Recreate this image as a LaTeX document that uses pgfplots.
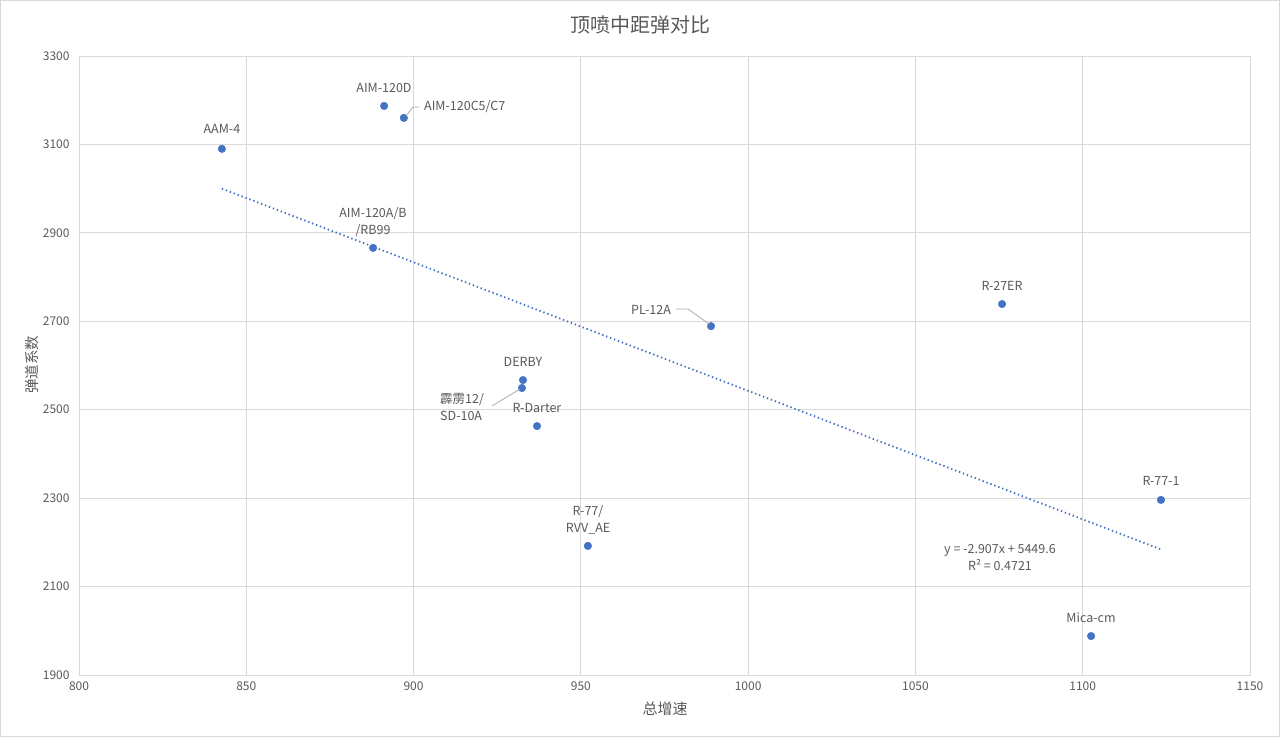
\documentclass[border=0pt]{standalone}
\usepackage{pgfplots}
\pgfplotsset{compat=1.18}
\usepackage{fontspec}
\setmainfont{Noto Sans CJK SC}
\definecolor{txt}{HTML}{595959}
\definecolor{gridc}{HTML}{D9D9D9}
\definecolor{mk}{HTML}{4472C4}
\definecolor{lead}{HTML}{A6A6A6}
\newcommand{\lf}{\fontsize{12.5bp}{17bp}\selectfont}
\newcommand{\tf}{\fontsize{12bp}{14bp}\selectfont}
\begin{document}
\begin{tikzpicture}[x=1bp,y=1bp]
\path[use as bounding box] (0,0) rectangle (1280,737);
\draw[gridc, line width=1bp] (0.5,0.5) rectangle (1279.5,736.5);
\begin{axis}[
  at={(79bp,62bp)}, anchor=south west,
  width=1171bp, height=619bp, scale only axis,
  xmin=800, xmax=1150, ymin=1900, ymax=3300,
  xtick={800,850,...,1150}, ytick={1900,2100,...,3300},
  grid=major, grid style={color=gridc, line width=0.75bp},
  axis line style={draw=gridc, line width=0.75bp},
  tick style={draw=none},
  /pgf/number format/assume math mode=true,
  /pgf/number format/1000 sep={},
  ticklabel style={font=\tf, text=txt},
  xticklabel style={yshift=-3bp},
  yticklabel style={xshift=-6bp},
  clip=false,
]
\addplot[only marks, mark=*, mark size=3.8bp, color=mk] coordinates {
  (842.7,3090) (891.2,3187) (897.1,3160) (887.9,2866) (988.9,2689)
  (1075.9,2739) (932.7,2567) (932.4,2549) (936.9,2463) (952.1,2192)
  (1123.4,2296) (1102.5,1988)
};
\addplot[color=mk, line width=1.8bp, dash pattern=on 1.4bp off 2.8bp] coordinates {
  (842.7,3000.0) (1123.4,2184.0)
};
\end{axis}
% title and axis labels
\node[text=txt, font=\fontsize{20bp}{22bp}\selectfont] at (640,712) {顶喷中距弹对比};
\node[text=txt, font=\fontsize{15bp}{17bp}\selectfont] at (665,28) {总增速};
\node[text=txt, font=\fontsize{14.5bp}{16bp}\selectfont, rotate=90] at (32,372) {弹道系数};
% data labels (pixel positions: x, 737-y)
\begin{scope}[every node/.style={text=txt, font=\lf, inner sep=0pt}]
\node at (222,608) {AAM-4};
\node at (384,649) {AIM-120D};
\node[anchor=west] at (424,630) {AIM-120C5/C7};
\node[align=center] at (373,515) {AIM-120A/B\\/RB99};
\node at (651,427) {PL-12A};
\node at (1002,451) {R-27ER};
\node at (523,375) {DERBY};
\node[align=left, anchor=west] at (440,330) {霹雳12/\\SD-10A};
\node at (537,329) {R-Darter};
\node[align=center] at (588,217) {R-77/\\RVV\_AE};
\node at (1161,256) {R-77-1};
\node at (1091,119) {Mica-cm};
\node[align=center] at (1000,179.5) {y = -2.907x + 5449.6\\R² = 0.4721};
\end{scope}
\draw[lead, line width=0.75bp] (406,621) -- (413,630) -- (419,630);
\draw[lead, line width=0.75bp] (676,428) -- (688,428) -- (709,413);
\draw[lead, line width=0.75bp] (492,331) -- (520,348);
\end{tikzpicture}
\end{document}
